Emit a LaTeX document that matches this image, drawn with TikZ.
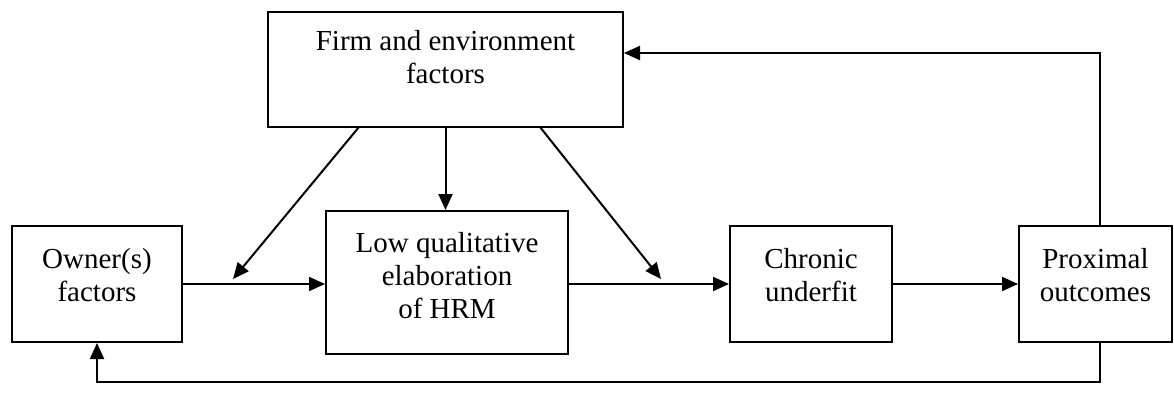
\documentclass[tikz,border=0pt]{standalone}
\usepackage{fontspec}
\setmainfont{Liberation Serif}
\usetikzlibrary{arrows.meta}
\begin{document}
\begin{tikzpicture}[x=0.5pt,y=-0.5pt,
	box/.style={draw,line width=1pt,inner sep=0pt},
	lbl/.style={align=center,font=\fontsize{14.5}{16.5}\selectfont},
	arr/.style={line width=1pt,-{Triangle[length=8pt,width=7pt]}}]
	\useasboundingbox (0,0) rectangle (1174,403);
	% boxes
	\node[box,minimum width=177.5pt,minimum height=57.5pt] (firm) at (445.5,69.5) {};
	\node[box,minimum width=85pt,minimum height=58pt] (owner) at (97,284) {};
	\node[box,minimum width=121pt,minimum height=71.5pt] (low) at (447,282.5) {};
	\node[box,minimum width=81pt,minimum height=58pt] (chronic) at (811,284) {};
	\node[box,minimum width=76.5pt,minimum height=58pt] (prox) at (1095.5,284) {};
	% texts
	\node[lbl] (firmtxt) at (445.5,57) {Firm and environment\\factors};
	\node[lbl] (ownertxt) at (97,275) {Owner(s)\\factors};
	\node[lbl] (lowtxt) at (447,276) {Low qualitative\\elaboration\\of HRM};
	\node[lbl] (chronictxt) at (811,275) {Chronic\\underfit};
	\node[lbl] (proxtxt) at (1095.5,275) {Proximal\\outcomes};
	% connectors
	\coordinate (fl) at (359,127);
	\coordinate (fr) at (540,127);
	\coordinate (lhit) at (233,279);
	\coordinate (rhit) at (661,279);
	\draw[arr] (owner.east) -- (low.west |- owner.east);
	\draw[arr] (low.east |- owner.east) -- (chronic.west);
	\draw[arr] (chronic.east) -- (prox.west);
	\draw[arr] (firm.south) -- (firm.south |- low.north);
	\draw[arr] (fl) -- (lhit);
	\draw[arr] (fr) -- (rhit);
	\draw[arr] ([xshift=2.25pt]prox.north) |- ([yshift=8.25pt]firm.east);
	\draw[arr] ([xshift=2.25pt]prox.south) -- ++(0,39) -| (owner.south);
\end{tikzpicture}
\end{document}
